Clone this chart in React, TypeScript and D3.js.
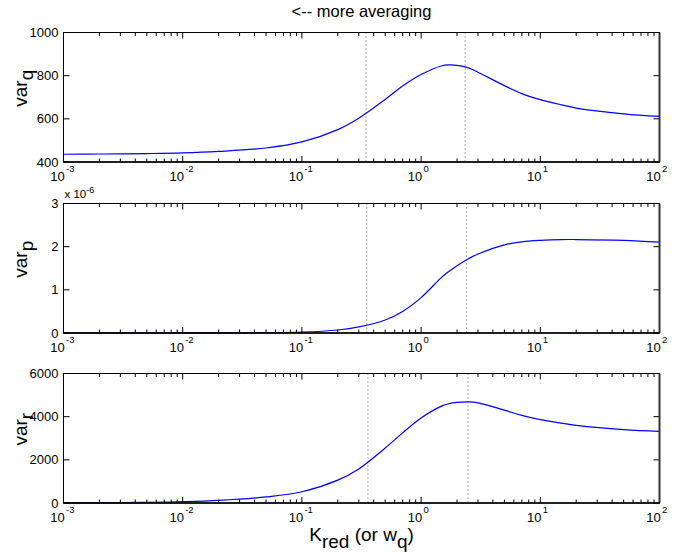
import React from "react";
import * as d3 from "d3";

const K = [0.001, 0.002, 0.005, 0.01, 0.02, 0.05, 0.1, 0.2, 0.3, 0.5, 0.7, 1, 1.5, 1.7, 2, 2.5, 3, 5, 7, 10, 15, 20, 50, 100];
const varQ = [436, 437, 439, 442, 449, 465, 493, 550, 603, 690, 752, 805, 846, 850, 848, 836, 816, 754, 717, 689, 665, 650, 623, 611];
const varP = [0.0, 0.0, 0.0005, 0.001, 0.003, 0.008, 0.02, 0.07, 0.14, 0.3, 0.5, 0.82, 1.3, 1.42, 1.56, 1.72, 1.83, 2.04, 2.11, 2.145, 2.165, 2.165, 2.145, 2.105];
const varR = [5, 10, 30, 60, 120, 280, 520, 1060, 1580, 2550, 3250, 3940, 4500, 4600, 4660, 4685, 4640, 4300, 4060, 3860, 3700, 3600, 3400, 3320];

const xDomain = [0.001, 100];
const xTickExps = [-3, -2, -1, 0, 1, 2];
const titleText = "<-- more averaging";

const panels = [
  { values: varQ, yDomain: [400, 1000], yTicks: [400, 600, 800, 1000], label: "var", sub: "q", marks: [0.345, 2.34], top: 32.5, exp: null },
  { values: varP, yDomain: [0, 3], yTicks: [0, 1, 2, 3], label: "var", sub: "p", marks: [0.35, 2.4], top: 203.5, exp: "-6" },
  { values: varR, yDomain: [0, 6000], yTicks: [0, 2000, 4000, 6000], label: "var", sub: "r", marks: [0.358, 2.47], top: 373.5, exp: null },
];

const LEFT = 63.5;
const RIGHT = 659.5;
const H = 129.5;
const FONT = "'Liberation Sans', Arial, Helvetica, sans-serif";

function Panel({ p }: { p: any }) {
  const x = d3.scaleLog().domain(xDomain).range([LEFT, RIGHT]);
  const y = d3.scaleLinear().domain(p.yDomain).range([p.top + H, p.top]);
  const bottom = p.top + H;
  const line = d3
    .line<number>()
    .x((_, i) => x(K[i]))
    .y((v) => y(v))
    .curve(d3.curveCatmullRom.alpha(0.5));
  const minors: number[] = [];
  for (let e = -3; e < 2; e++) for (let m = 2; m <= 9; m++) minors.push(m * Math.pow(10, e));
  const midY = p.top + H / 2;
  return (
    <g>
      {p.marks.map((m: number, i: number) => (
        <line key={"m" + i} x1={x(m)} x2={x(m)} y1={p.top} y2={bottom} stroke="#555" strokeWidth={1} strokeDasharray="1,3" />
      ))}
      <path d={line(p.values) || ""} fill="none" stroke="#0000ff" strokeWidth={1.2} />
      {minors.map((m, i) => (
        <g key={"mn" + i}>
          <line x1={x(m)} x2={x(m)} y1={bottom} y2={bottom - 3.5} stroke="#000" strokeWidth={1} />
          <line x1={x(m)} x2={x(m)} y1={p.top} y2={p.top + 3.5} stroke="#000" strokeWidth={1} />
        </g>
      ))}
      {xTickExps.map((e) => {
        const xv = x(Math.pow(10, e));
        return (
          <g key={"xt" + e}>
            <line x1={xv} x2={xv} y1={bottom} y2={bottom - 6} stroke="#000" strokeWidth={1} />
            <line x1={xv} x2={xv} y1={p.top} y2={p.top + 6} stroke="#000" strokeWidth={1} />
            <text x={xv - 6} y={bottom + 18.5} fontSize={13} fontFamily={FONT} textAnchor="middle">
              10
            </text>
            <text x={xv + 2.5} y={bottom + 10} fontSize={9.5} fontFamily={FONT} textAnchor="start">
              {e}
            </text>
          </g>
        );
      })}
      {p.yTicks.map((t: number) => (
        <g key={"yt" + t}>
          <line x1={LEFT} x2={LEFT + 6} y1={y(t)} y2={y(t)} stroke="#000" strokeWidth={1} />
          <line x1={RIGHT} x2={RIGHT - 6} y1={y(t)} y2={y(t)} stroke="#000" strokeWidth={1} />
          <text x={LEFT - 5} y={y(t) + 4.5} fontSize={13} fontFamily={FONT} textAnchor="end">
            {t}
          </text>
        </g>
      ))}
      <rect x={LEFT} y={p.top} width={RIGHT - LEFT} height={H} fill="none" stroke="#000" strokeWidth={1} />
      <line x1={RIGHT} x2={RIGHT} y1={p.top} y2={bottom} stroke="#333" strokeWidth={2} />
      <line x1={LEFT} x2={RIGHT} y1={bottom} y2={bottom} stroke="#000" strokeWidth={1.5} />
      <text transform={`translate(${27},${midY - 9}) rotate(-90)`} fontSize={19} fontFamily={FONT} textAnchor="middle">
        {p.label}
        <tspan dy={6}>{p.sub}</tspan>
      </text>
      {p.exp && (
        <text x={LEFT + 1} y={p.top - 6} fontSize={11.5} fontFamily={FONT}>
          x 10
          <tspan fontSize={9} dy={-5}>{p.exp}</tspan>
        </text>
      )}
    </g>
  );
}

export default function App() {
  return (
    <svg width={694} height={557} style={{ position: "absolute", left: 0, top: 0, background: "#fff" }}>
      <rect width={694} height={557} fill="#fff" />
      <text x={(LEFT + RIGHT) / 2} y={17} fontSize={16.5} fontFamily={FONT} textAnchor="middle">
        {titleText}
      </text>
      {panels.map((p, i) => (
        <Panel key={i} p={p} />
      ))}
      <text x={(LEFT + RIGHT) / 2} y={541} fontSize={19} fontFamily={FONT} textAnchor="middle">
        K
        <tspan dy={7}>red</tspan>
        <tspan dy={-7}> (or w</tspan>
        <tspan dy={7}>q</tspan>
        <tspan dy={-7}>)</tspan>
      </text>
    </svg>
  );
}
